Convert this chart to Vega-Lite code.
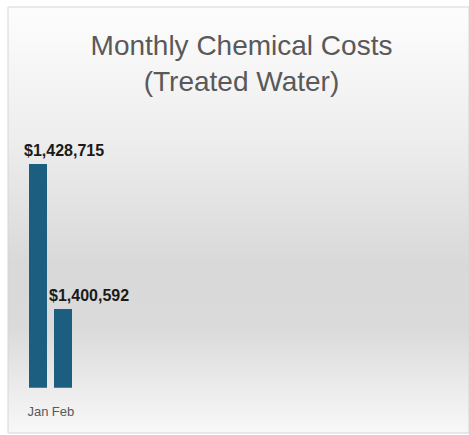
{
  "$schema": "https://vega.github.io/schema/vega-lite/v6.json",
  "autosize": {"type": "none"},
  "width": 461,
  "height": 426,
  "padding": {"left": 8, "top": 7, "right": 0, "bottom": 2},
  "background": "white",
  "config": {"view": {"stroke": null}},
  "title": {
    "text": ["Monthly Chemical Costs", "(Treated Water)"],
    "anchor": "middle",
    "frame": "group",
    "orient": "top",
    "baseline": "top",
    "offset": -90,
    "dx": 3,
    "font": "Liberation Sans",
    "fontSize": 28,
    "fontWeight": "normal",
    "lineHeight": 36,
    "color": "#595959"
  },
  "data": {"values": [
    {"month": "Jan", "cost": 1428715},
    {"month": "Feb", "cost": 1400592}
  ]},
  "layer": [
    {
      "data": {"values": [{}]},
      "mark": {
        "type": "rect",
        "stroke": "#d6d6d6",
        "strokeWidth": 1,
        "fill": {
          "gradient": "linear", "x1": 0, "y1": 0, "x2": 0, "y2": 1,
          "stops": [
            {"offset": 0, "color": "#fdfdfd"},
            {"offset": 0.3, "color": "#eeeeee"},
            {"offset": 0.6, "color": "#d9d9d9"},
            {"offset": 0.75, "color": "#dadada"},
            {"offset": 1, "color": "#f8f8f8"}
          ]
        }
      },
      "encoding": {}
    },
    {
      "mark": {"type": "bar", "color": "#1b5e80"},
      "encoding": {
        "x": {
          "field": "month", "type": "nominal", "sort": ["Jan", "Feb"],
          "scale": {"range": [17.5, 67.5], "paddingInner": 0.28, "paddingOuter": 0.14},
          "axis": {
            "title": null, "domain": false, "ticks": false, "grid": false, "zindex": 2,
            "labelAngle": 0, "offset": -31, "labelPadding": 3, "labelBaseline": "top",
            "labelFont": "Liberation Sans", "labelFontSize": 13, "labelColor": "#595959"
          }
        },
        "y": {
          "field": "cost", "type": "quantitative",
          "scale": {"domain": [1376500, 1459200], "zero": false, "nice": false},
          "axis": null
        },
        "y2": {"datum": 1385270}
      }
    },
    {
      "mark": {
        "type": "text", "align": "left", "baseline": "alphabetic", "dx": -5, "dy": -8,
        "font": "Liberation Sans", "fontSize": 16, "fontWeight": "bold", "color": "#1a1a1a"
      },
      "encoding": {
        "x": {"field": "month", "type": "nominal", "sort": ["Jan", "Feb"], "bandPosition": 0},
        "y": {"field": "cost", "type": "quantitative"},
        "text": {"field": "cost", "type": "quantitative", "format": "$,.0f"}
      }
    }
  ]
}
